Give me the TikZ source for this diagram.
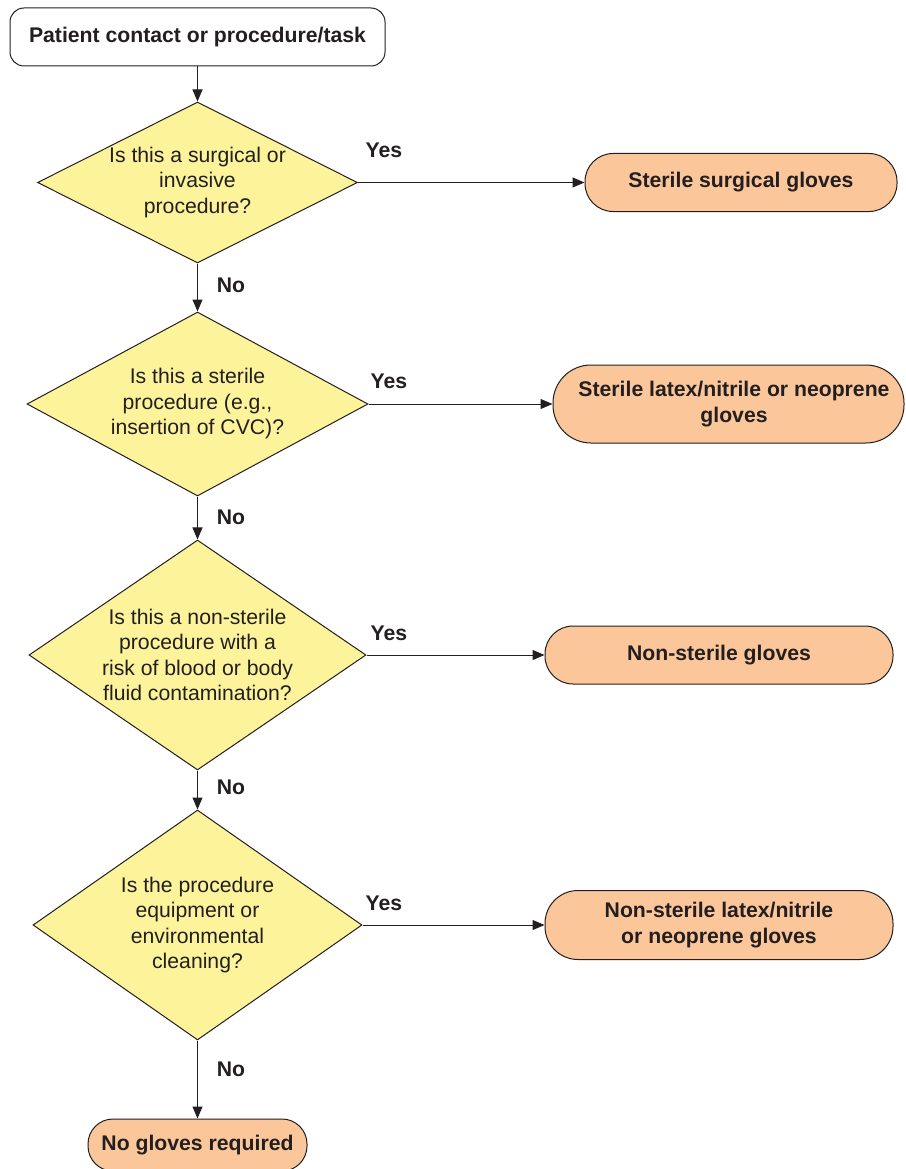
\documentclass[tikz,border=0pt]{standalone}
\usepackage{fontspec}
\setmainfont{Liberation Sans}
\usetikzlibrary{shapes.geometric,arrows.meta}
\definecolor{ink}{HTML}{231F20}
\definecolor{qfill}{HTML}{FCF39B}
\definecolor{afill}{HTML}{FAC69A}
\begin{document}
\begin{tikzpicture}[x=1pt,y=-1pt,
  txt/.style={text=ink, font=\fontsize{21.2}{25.5}\selectfont},
  bold/.style={text=ink, font=\fontsize{21.2}{25.5}\selectfont\bfseries},
  startbox/.style={bold, draw=ink, line width=1pt, fill=white, rounded corners=14pt,
    inner sep=0pt, align=center},
  question/.style={diamond, draw=ink, line width=1pt, fill=qfill, inner sep=0pt},
  qtext/.style={txt, align=center, inner sep=0pt},
  outcome/.style={bold, draw=ink, line width=1pt, fill=afill, inner sep=0pt, align=center},
  answer/.style={bold, inner sep=0pt},
  flow/.style={draw=ink, line width=1pt, -{Triangle[length=12pt,width=10pt]}}
]
\useasboundingbox[fill=white] (0,0) rectangle (905,1169);

% start
\node[startbox, minimum width=375pt, minimum height=58pt] (start) at (197.5,37) {Patient contact or procedure/task};

% decisions
\node[question, minimum width=320pt, minimum height=161pt] (d1) at (197.5,182.5) {};
\node[qtext] (q1) at (d1) {Is this a surgical or\\invasive\\procedure?};
\node[question, minimum width=341pt, minimum height=184pt] (d2) at (197.5,404) {};
\node[qtext] (q2) at (d2) {Is this a sterile\\procedure (e.g.,\\insertion of CVC)?};
\node[question, minimum width=337pt, minimum height=230pt] (d3) at (197.5,655) {};
\node[qtext] (q3) at (d3) {Is this a non-sterile\\procedure with a\\risk of blood or body\\fluid contamination?};
\node[question, minimum width=329pt, minimum height=230pt] (d4) at (197.5,925) {};
\node[qtext] (q4) at (d4) {Is the procedure\\equipment or\\environmental\\cleaning?};

% outcomes
\node[outcome, minimum width=312pt, minimum height=58pt, rounded corners=28pt] (t1) at (741,182.5) {Sterile surgical gloves};
\node[outcome, minimum width=351pt, minimum height=78pt, rounded corners=38pt] (t2) at (728.5,404) {};
\node[bold, align=center, inner sep=0pt] (t2text) at (734,404) {Sterile latex/nitrile or neoprene\\gloves};
\node[outcome, minimum width=348pt, minimum height=58pt, rounded corners=28pt] (t3) at (719,655) {Non-sterile gloves};
\node[outcome, minimum width=348pt, minimum height=69pt, rounded corners=33pt] (t4) at (719,925) {Non-sterile latex/nitrile\\or neoprene gloves};
\node[outcome, minimum width=219pt, minimum height=52pt, rounded corners=25pt] (t5) at (197.5,1145) {No gloves required};

% connectors
\draw[flow] (start) -- (d1);
\draw[flow] (d1) -- (d2);
\draw[flow] (d2) -- (d3);
\draw[flow] (d3) -- (d4);
\draw[flow] (d4) -- (t5);
\draw[flow] (d1.east) -- (t1.west);
\draw[flow] (d2.east) -- (t2.west);
\draw[flow] (d3.east) -- (t3.west);
\draw[flow] (d4.east) -- (t4.west);

% branch labels
\node[answer] (y1) at (384,150) {Yes};
\node[answer] (y2) at (389,381) {Yes};
\node[answer] (y3) at (389,633) {Yes};
\node[answer] (y4) at (384,903) {Yes};
\node[answer] (n1) at (231,285) {No};
\node[answer] (n2) at (231,517) {No};
\node[answer] (n3) at (231,787) {No};
\node[answer] (n4) at (231,1069) {No};
\end{tikzpicture}
\end{document}
